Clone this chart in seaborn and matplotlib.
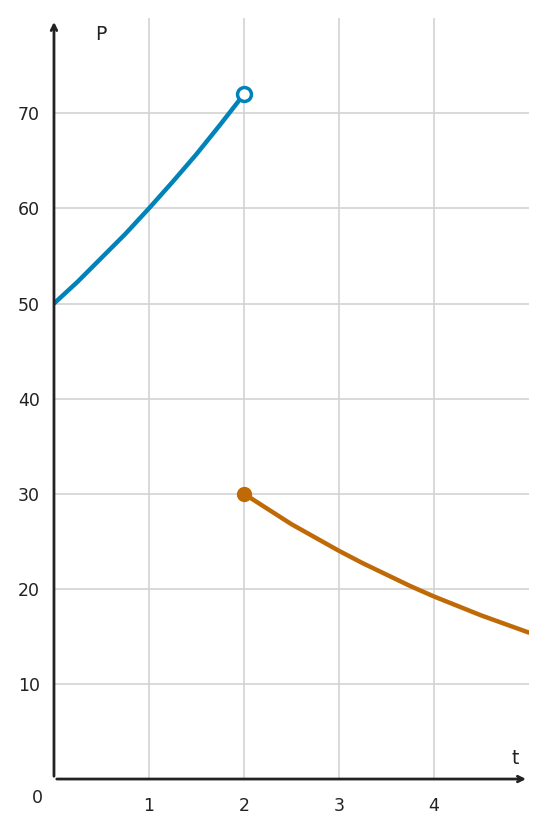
import matplotlib
matplotlib.use("Agg")
import matplotlib.pyplot as plt
import seaborn as sns
import pandas as pd

t_blue = [0, .25, .5, .75, 1, 1.25, 1.5, 1.75, 2]
p_blue = [50, 52.3, 54.8, 57.3, 60, 62.8, 65.7, 68.8, 72]
t_orange = [2, 2.25, 2.5, 2.75, 3, 3.25, 3.5, 3.75, 4, 4.25, 4.5, 4.75, 5]
p_orange = [30, 28.4, 26.8, 25.4, 24, 22.7, 21.5, 20.3, 19.2, 18.2, 17.2, 16.3, 15.4]
xticks = [1, 2, 3, 4]
yticks = [10, 20, 30, 40, 50, 60, 70]

sns.set_style("white")
plt.rcParams['font.family'] = ['DejaVu Sans']
fig = plt.figure(figsize=(5.48, 8.27), dpi=100)
ax = fig.add_axes([0.0985, 0.058, 0.8665, 0.92])
blue, orange = "#0083b8", "#bf6a06"
ax.set_xlim(0, 5)
ax.set_ylim(0, 80)
for x in xticks:
    ax.axvline(x, color="#d3d3d3", lw=1.2, zorder=0)
for y in yticks:
    ax.axhline(y, color="#d3d3d3", lw=1.2, zorder=0)
sns.lineplot(data=pd.DataFrame({"t": t_blue, "P": p_blue}), x="t", y="P", ax=ax, color=blue, lw=3.2)
sns.lineplot(data=pd.DataFrame({"t": t_orange, "P": p_orange}), x="t", y="P", ax=ax, color=orange, lw=3.2, clip_on=True)
ax.plot([t_blue[-1]], [p_blue[-1]], 'o', ms=10, mfc="white", mec=blue, mew=2.5, zorder=5, clip_on=False)
ax.plot([t_orange[0]], [p_orange[0]], 'o', ms=10, color=orange, zorder=5)
for s in ax.spines.values():
    s.set_visible(False)
ax.annotate("", xy=(5.0, 0), xytext=(0, 0), xycoords='data',
            arrowprops=dict(arrowstyle="->", color="#222", lw=2), annotation_clip=False)
ax.annotate("", xy=(0, 79.9), xytext=(0, 0),
            arrowprops=dict(arrowstyle="->", color="#222", lw=2), annotation_clip=False)
ax.set_xticks(xticks)
ax.set_yticks(yticks)
ax.tick_params(axis='both', length=5, width=1.5, color="#222", labelsize=12.5, labelcolor="#222", direction='out')
ax.tick_params(axis='y', direction='in', pad=10)
ax.tick_params(axis='x', pad=8)
ax.set_xlabel("")
ax.set_ylabel("")
ax.text(-0.17, -2, "0", fontsize=12.5, color="#222", ha='center', va='center')
ax.text(0.49, 78.3, "P", fontsize=13.5, color="#222", ha='center', va='center')
ax.text(4.86, 2.2, "t", fontsize=13.5, color="#222", ha='center', va='center')
fig.savefig("out.png", dpi=100)
